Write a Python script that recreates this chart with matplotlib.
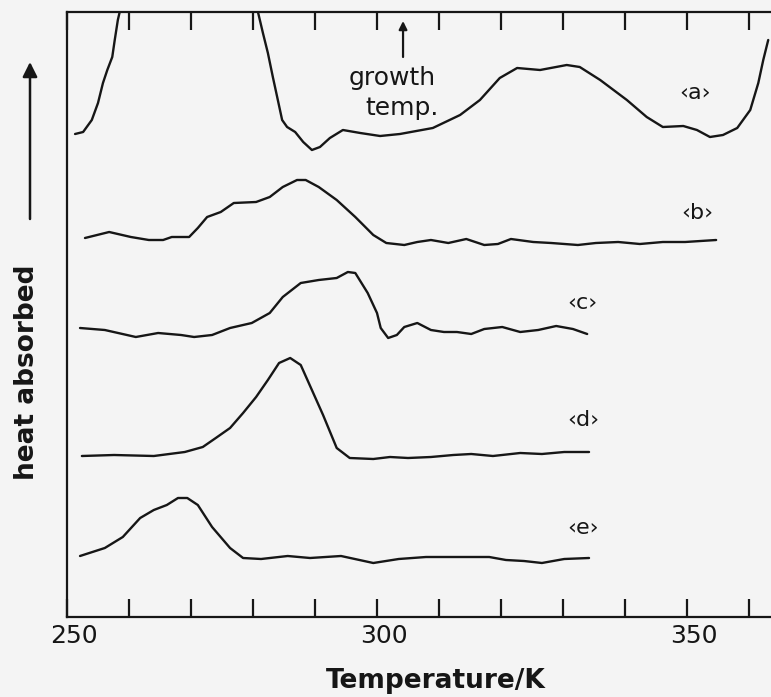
import numpy as np
import matplotlib
matplotlib.use("Agg")
import matplotlib.pyplot as plt
from matplotlib.transforms import ScaledTranslation

# ---------------- data (temperature in K, signal in arbitrary units) ----------------
T_a = [251.3, 252.6, 254.0, 255.0, 255.8, 256.5, 257.3, 257.7, 258.2, 258.5, 258.9,
       280.5, 280.8, 281.6, 282.4, 283.2, 283.9, 284.7, 285.5, 286.8, 288.1, 289.5,
       290.8, 292.4, 294.5, 297.3, 300.5, 303.7, 309.0, 313.4, 316.6, 319.8, 322.6,
       326.3, 330.6, 332.7, 336.0, 340.3, 343.5, 346.1, 349.4, 351.6, 353.7, 355.8,
       358.1, 360.2, 361.5, 362.3, 363.1]
H_a = [483, 485, 497, 514, 534, 547, 560, 577, 597, 605, 650,
       650, 605, 584, 564, 540, 520, 497, 490, 485, 475, 467,
       470, 479, 487, 484, 481, 483, 489, 502, 517, 539, 549,
       547, 552, 550, 537, 517, 500, 490, 491, 487, 480, 482,
       489, 507, 534, 557, 577]

T_b = [252.9, 256.8, 260.3, 263.2, 265.5, 266.9, 269.7, 271.1, 272.6, 274.8,
       276.9, 280.5, 282.7, 284.8, 287.1, 288.5, 290.6, 293.5, 296.5, 299.4,
       301.5, 304.4, 306.5, 308.7, 311.5, 314.4, 317.3, 319.5, 321.6, 325.2,
       328.1, 332.4, 335.3, 338.9, 342.4, 346.1, 349.7, 354.7]
H_b = [379, 385, 380, 377, 377, 380, 380, 389, 400, 405,
       414, 415, 420, 430, 437, 437, 430, 417, 400, 382,
       374, 372, 375, 377, 374, 378, 372, 373, 378, 375,
       374, 372, 374, 375, 373, 375, 375, 377]

T_c = [252.1, 256.1, 261.1, 264.7, 268.4, 270.5, 273.4, 276.3, 279.8, 282.7,
       284.8, 287.7, 290.6, 293.5, 295.3, 296.5, 298.5, 300.0, 300.6, 301.8,
       303.2, 304.4, 306.5, 308.7, 310.8, 312.9, 315.2, 317.3, 320.2, 323.1,
       326.0, 328.9, 331.6, 333.9]
H_c = [289, 287, 280, 284, 282, 280, 282, 289, 294, 304,
       320, 334, 337, 339, 345, 344, 324, 304, 289, 279,
       282, 290, 294, 287, 285, 285, 283, 288, 290, 285,
       287, 291, 288, 283]

T_d = [252.4, 257.6, 264.0, 269.0, 271.9, 274.0, 276.3, 278.4, 280.5, 282.4,
       284.2, 286.0, 287.7, 289.5, 291.3, 293.5, 295.6, 299.4, 302.1, 305.0,
       308.7, 312.3, 315.2, 318.7, 323.1, 326.6, 330.2, 334.2]
H_d = [161, 162, 161, 165, 170, 179, 189, 204, 220, 237,
       254, 259, 252, 227, 202, 169, 159, 158, 160, 159,
       160, 162, 163, 161, 164, 163, 165, 165]

T_e = [252.1, 256.1, 259.0, 261.8, 264.0, 266.1, 267.9, 269.4, 271.1, 273.4,
       276.3, 278.4, 281.3, 285.6, 289.2, 294.2, 299.4, 303.5, 307.9, 312.3,
       318.1, 320.8, 323.7, 326.6, 330.2, 334.2]
H_e = [61, 69, 80, 99, 107, 112, 119, 119, 112, 90,
       69, 59, 58, 61, 59, 61, 54, 58, 60, 60,
       60, 57, 56, 54, 58, 59]

curve_labels = ["\u2039a\u203a", "\u2039b\u203a", "\u2039c\u203a", "\u2039d\u203a", "\u2039e\u203a"]
label_T = [351.3, 351.6, 333.1, 333.2, 333.2]
label_H = [524, 404, 314, 197, 89]

xtick_values = list(range(250, 361, 10))
xtick_labels = ["250", "", "", "", "", "300", "", "", "", "", "350", ""]

growth_T = 304.2
# ---------------------------------------------------------------------------------------

BG = "#f4f4f4"
INK = "#161616"

W, H = 771, 697
fig = plt.figure(figsize=(W / 100, H / 100), dpi=100, facecolor=BG)
ax = fig.add_axes([67 / W, 80 / H, 704 / W, 605 / H], facecolor=BG)

for T, Hs in [(T_a, H_a), (T_b, H_b), (T_c, H_c), (T_d, H_d), (T_e, H_e)]:
    ax.plot(T, Hs, color=INK, lw=1.7, solid_joinstyle="round", solid_capstyle="round")

ax.set_xlim(250, 250 + 704 / 6.2)
ax.set_ylim(0, 605)

ax.spines["right"].set_visible(False)
for s in ["left", "top", "bottom"]:
    ax.spines[s].set_linewidth(1.6)
    ax.spines[s].set_color(INK)

ax.set_yticks([])
ax.set_xticks(xtick_values)
ax.set_xticklabels(xtick_labels)
ax.tick_params(axis="x", direction="in", length=13, width=1.6, top=True,
               pad=5, labelsize=18, colors=INK)
shift = ScaledTranslation(7 / 100, 0, fig.dpi_scale_trans)
for lab in ax.get_xticklabels():
    lab.set_transform(lab.get_transform() + shift)

for lab, t, h in zip(curve_labels, label_T, label_H):
    ax.text(t, h, lab, ha="center", va="center", fontsize=16, color=INK)

# growth temperature annotation
ax.annotate("", xy=(growth_T, 596), xytext=(growth_T, 560),
            arrowprops=dict(arrowstyle="-|>", lw=1.6, color=INK, mutation_scale=12,
                            shrinkA=0, shrinkB=0))
ax.text(302.4, 539, "growth", ha="center", va="center", fontsize=18, color=INK)
ax.text(304.0, 509, "temp.", ha="center", va="center", fontsize=18, color=INK)

# axis labels
fig.text(436 / W, 1 - 681 / H, "Temperature/K", ha="center", va="center",
         fontsize=19, fontweight="bold", color=INK)
fig.text(27 / W, 1 - 372 / H, "heat absorbed", ha="center", va="center",
         rotation=90, fontsize=19, fontweight="bold", color=INK)
ax.annotate("", xy=(30, H - 62), xycoords="figure pixels",
            xytext=(30, H - 219), textcoords="figure pixels",
            arrowprops=dict(arrowstyle="-|>", lw=1.8, color=INK, mutation_scale=22,
                            shrinkA=0, shrinkB=0))

fig.savefig("out.png", dpi=100, facecolor=BG)
